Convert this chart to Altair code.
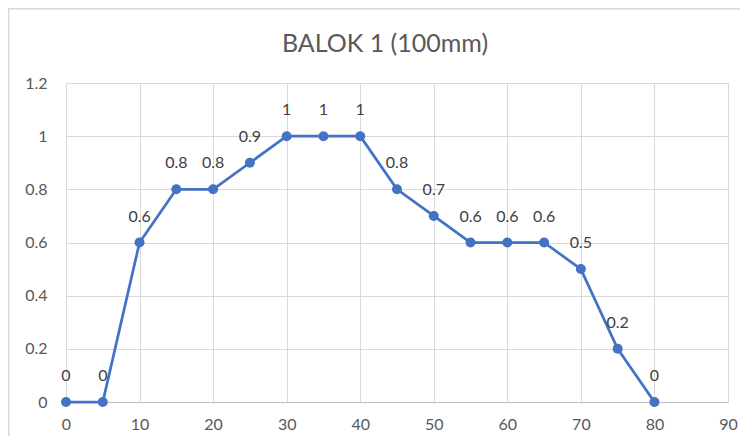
import altair as alt
import pandas as pd

x_vals = [0, 5, 10, 15, 20, 25, 30, 35, 40, 45, 50, 55, 60, 65, 70, 75, 80]
y_vals = [0, 0, 0.6, 0.8, 0.8, 0.9, 1, 1, 1, 0.8, 0.7, 0.6, 0.6, 0.6, 0.5, 0.2, 0]
labels = ["0", "0", "0.6", "0.8", "0.8", "0.9", "1", "1", "1", "0.8", "0.7",
          "0.6", "0.6", "0.6", "0.5", "0.2", "0"]
x_ticks = [0, 10, 20, 30, 40, 50, 60, 70, 80, 90]
y_ticks = [0, 0.2, 0.4, 0.6, 0.8, 1.0, 1.2]

df = pd.DataFrame({"x": x_vals, "y": y_vals, "label": labels})

FONT = "Lato"
W, H = 662, 319
PL, PT = 58, 75

xs = alt.X("x:Q", scale=alt.Scale(domain=[0, 90], nice=False),
           axis=alt.Axis(values=x_ticks, title=None, grid=True, ticks=False,
                         labelPadding=14, labelFontSize=16, labelColor="#595959",
                         labelFont=FONT, domainColor="#bfbfbf", domainWidth=1.2,
                         gridColor="#d9d9d9", labelFlush=False))
ys = alt.Y("y:Q", scale=alt.Scale(domain=[0, 1.2], nice=False),
           axis=alt.Axis(values=y_ticks, title=None, grid=True, ticks=False,
                         domain=False, format="~g", labelPadding=19,
                         labelFontSize=16, labelColor="#595959", labelFont=FONT,
                         gridColor="#d9d9d9"))

base = alt.Chart(df)

border = alt.Chart(pd.DataFrame({"a": [0]})).mark_rect(
    fill=None, stroke="#d9d9d9", strokeWidth=1.5
).encode(
    x=alt.value(-PL + 0.75), x2=alt.value(W + 200),
    y=alt.value(-PT + 0.75), y2=alt.value(H + 200),
)

line = base.mark_line(color="#4472C4", strokeWidth=2.75).encode(x=xs, y=ys)
pts = base.mark_circle(color="#4472C4", opacity=1, size=100).encode(x="x:Q", y="y:Q")
txt = base.mark_text(dy=-26, fontSize=16, color="#404040", font=FONT,
                     baseline="middle").encode(x="x:Q", y="y:Q", text="label:N")

chart = alt.layer(border, line, pts, txt).properties(
    width=W, height=H,
    title=alt.Title("BALOK 1 (100mm)", fontSize=25, font=FONT, fontWeight="normal",
                    color="#595959", anchor="middle", frame="group",
                    offset=0, dy=49, dx=-12),
    autosize=alt.AutoSizeParams(type="none"),
    padding={"left": PL, "top": PT, "right": 12, "bottom": 34},
).configure_view(stroke=None).configure(background="white")

chart.save("out.html", embed_options={"renderer": "svg", "actions": False})
